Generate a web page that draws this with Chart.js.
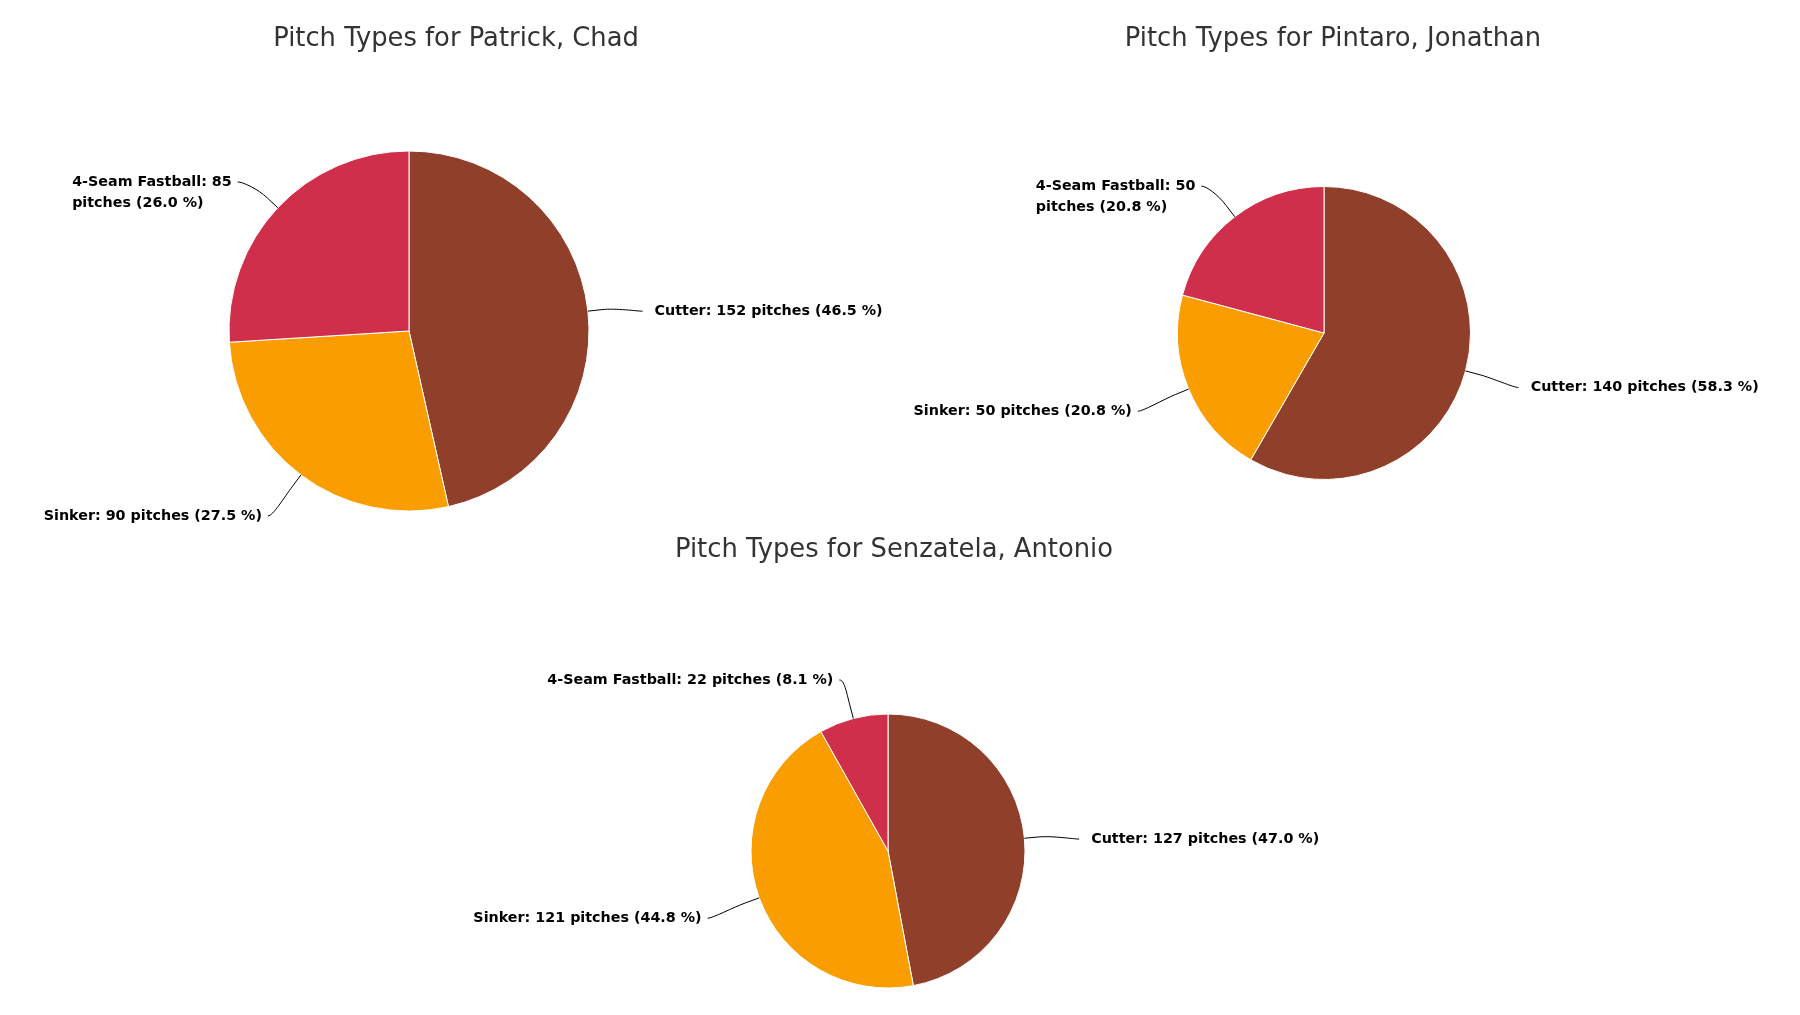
<!DOCTYPE html>
<html>
<head>
<meta charset="utf-8">
<title>Pitch Types</title>
<script src="https://cdn.jsdelivr.net/npm/chart.js@4.4.1/dist/chart.umd.min.js"></script>
<style>
  html, body { margin: 0; padding: 0; background: #fff; overflow: hidden; }
  body { width: 1800px; height: 1015px; position: relative; }
  canvas { position: absolute; }
</style>
</head>
<body>
<canvas id="chart1"></canvas>
<canvas id="chart2"></canvas>
<canvas id="chart3"></canvas>
<script>
// Data
const pitchTypes = ['Cutter', 'Sinker', '4-Seam Fastball'];
const sliceColors = ['#903f2b', '#f99d00', '#d02f4b'];

const pitchers = ['Patrick, Chad', 'Pintaro, Jonathan', 'Senzatela, Antonio'];
const patrickCounts = [152, 90, 85];
const pintaroCounts = [140, 50, 50];
const senzatelaCounts = [127, 121, 22];

// where each chart sits on the page (canvas box, pie centre, radius, title line)
const boxes = [
  { left: 0,   top: 0,   width: 918,  height: 600, cx: 409,  cy: 331, r: 180,   titleX: 456,  titleY: 39 },
  { left: 876, top: 0,   width: 924,  height: 600, cx: 1324, cy: 333, r: 146.5, titleX: 1333, titleY: 39 },
  { left: 300, top: 500, width: 1200, height: 515, cx: 888,  cy: 851, r: 137,   titleX: 894,  titleY: 550 }
];

const titleFont = '25.8px "DejaVu Sans", "Lucida Grande", sans-serif';
const labelFont = 'bold 14.3px "DejaVu Sans", "Lucida Grande", sans-serif';
const labelEdgeMargin = 31;

// title + outside labels with curved connectors (highcharts-like)
const pieLabels = {
  id: 'pieLabels',
  afterDraw(chart, args, opts) {
    const ctx = chart.ctx;
    const values = chart.data.datasets[0].data;
    const total = values.reduce((a, b) => a + b, 0);
    const meta = chart.getDatasetMeta(0);

    ctx.save();
    // title
    ctx.font = titleFont;
    ctx.fillStyle = '#333333';
    ctx.textAlign = 'center';
    ctx.textBaseline = 'middle';
    ctx.fillText(opts.title, opts.titleX, opts.titleY);

    ctx.font = labelFont;
    ctx.textBaseline = 'middle';
    meta.data.forEach((arc, i) => {
      const p = arc.getProps(['x', 'y', 'startAngle', 'endAngle', 'outerRadius'], true);
      const mid = (p.startAngle + p.endAngle) / 2;
      const cos = Math.cos(mid), sin = Math.sin(mid);
      const left = cos < 0;
      const ex = p.x + p.outerRadius * cos;
      const ey = p.y + p.outerRadius * sin;
      const ax = p.x + (p.outerRadius + 55) * cos;
      const ay = p.y + (p.outerRadius + 45) * sin + 5;

      const pct = (values[i] / total * 100).toFixed(1);
      const name = chart.data.labels[i];
      let lines = [name + ': ' + values[i] + ' pitches (' + pct + ' %)'];
      // wrap when the label would run into the left edge of its chart
      if (left && ax - 6 - ctx.measureText(lines[0]).width < labelEdgeMargin) {
        lines = [name + ': ' + values[i], 'pitches (' + pct + ' %)'];
      }
      const blockW = Math.max(...lines.map(t => ctx.measureText(t).width));
      const tx = left ? ax - 6 - blockW : ax + 12;

      // connector
      const k = 14;
      const bx = ex + k * cos, by = ey + k * sin;
      ctx.beginPath();
      ctx.moveTo(ax, ay);
      ctx.bezierCurveTo(ax + (left ? 5 : -5), ay, 2 * bx - ex, 2 * by - ey, bx, by);
      ctx.lineTo(ex, ey);
      ctx.strokeStyle = '#000';
      ctx.lineWidth = 1;
      ctx.stroke();

      ctx.fillStyle = '#000';
      ctx.textAlign = 'left';
      lines.forEach((t, j) => ctx.fillText(t, tx, ay + j * 21));
    });
    ctx.restore();
  }
};

function makePie(id, name, counts, box) {
  const el = document.getElementById(id);
  el.width = box.width;
  el.height = box.height;
  el.style.left = box.left + 'px';
  el.style.top = box.top + 'px';

  // pad the chart area so the pie centre lands on box.cx / box.cy
  const lcx = box.cx - box.left, lcy = box.cy - box.top;
  let pl = 0, pr = box.width - 2 * lcx;
  if (pr < 0) { pl = -pr; pr = 0; }
  let pt = 2 * lcy - box.height, pb = 0;
  if (pt < 0) { pb = -pt; pt = 0; }

  return new Chart(el, {
    type: 'pie',
    data: {
      labels: pitchTypes,
      datasets: [{
        data: counts,
        backgroundColor: sliceColors,
        borderColor: '#ffffff',
        borderWidth: 1,
        radius: box.r
      }]
    },
    options: {
      responsive: false,
      animation: false,
      layout: { padding: { left: pl, right: pr, top: pt, bottom: pb } },
      plugins: {
        legend: { display: false },
        tooltip: { enabled: false },
        title: { display: false },
        pieLabels: {
          title: 'Pitch Types for ' + name,
          titleX: box.titleX - box.left,
          titleY: box.titleY - box.top
        }
      }
    },
    plugins: [pieLabels]
  });
}

makePie('chart1', pitchers[0], patrickCounts, boxes[0]);
makePie('chart2', pitchers[1], pintaroCounts, boxes[1]);
makePie('chart3', pitchers[2], senzatelaCounts, boxes[2]);
</script>
</body>
</html>
